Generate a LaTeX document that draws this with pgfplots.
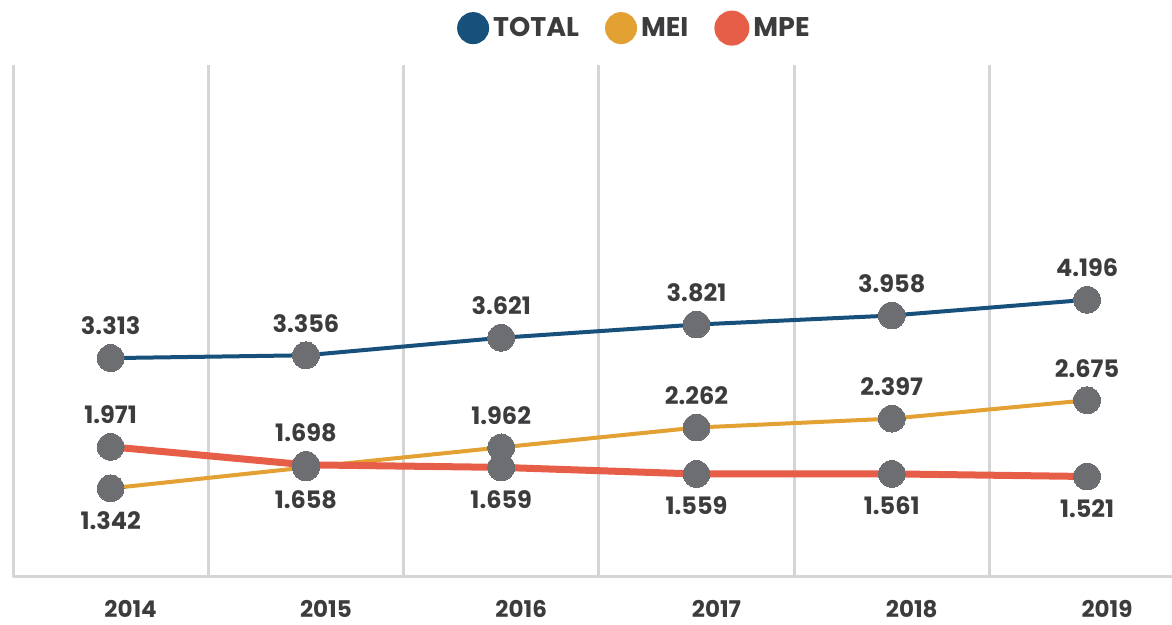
\documentclass[border=0pt]{standalone}
\usepackage{pgfplots}
\pgfplotsset{compat=1.18}
\usepackage{pgfplotstable}
\usepackage{fontspec}
\setmainfont{Poppins}
\definecolor{totalblue}{HTML}{17507A}
\definecolor{meiorange}{HTML}{E3A033}
\definecolor{mpered}{HTML}{E75E48}
\definecolor{markgray}{HTML}{6C6E71}
\definecolor{gridgray}{HTML}{D4D5D7}
\definecolor{textgray}{HTML}{3C3C3E}

\pgfplotstableread{
x total mei mpe
0 3.313 1.342 1.971
1 3.356 1.658 1.698
2 3.621 1.962 1.659
3 3.821 2.262 1.559
4 3.958 2.397 1.561
5 4.196 2.675 1.521
}\datatable

\begin{document}
\begin{tikzpicture}
\path[use as bounding box] (0,0) rectangle (586pt,312.5pt);
\begin{axis}[
  at={(6.5pt,24pt)}, anchor=south west,
  scale only axis, width=579.5pt, height=256pt,
  xmin=-0.5, xmax=5.435, ymin=0, ymax=7.75,
  axis x line*=bottom, axis y line=none,
  x axis line style={draw=gridgray, line width=1.5pt, -},
  ytick=\empty,
  xtick={0,...,5}, xticklabels={2014,2015,2016,2017,2018,2019},
  major tick length=0pt, minor tick length=0pt,
  minor xtick={-0.5,0.5,1.5,2.5,3.5,4.5},
  xminorgrids=true,
  minor grid style={draw=gridgray, line width=1.5pt},
  xticklabel style={anchor=center, inner sep=0pt, yshift=-16pt, xshift=10pt, font=\fontsize{11.5}{13}\selectfont\bfseries, text=textgray},
  legend style={at={(0.537,1.072)}, anchor=center, draw=none, fill=none,
    legend columns=-1, font=\fontsize{13.5}{16}\selectfont\bfseries, text=textgray,
    /tikz/every even column/.append style={column sep=11pt}},
  legend cell align=left,
  clip=false,
]
\addplot[totalblue, line width=2pt,
  legend image code/.code={\fill[totalblue] (0pt,0pt) circle (7pt);}]
  table[x=x, y=total]{\datatable};
\addlegendentry{TOTAL}
\addplot[meiorange, line width=2pt,
  legend image code/.code={\fill[meiorange] (0pt,0pt) circle (7pt);}]
  table[x=x, y=mei]{\datatable};
\addlegendentry{MEI}
\addplot[mpered, line width=3.5pt,
  legend image code/.code={\fill[mpered] (0pt,0pt) circle (7pt);}]
  table[x=x, y=mpe]{\datatable};
\addlegendentry{MPE}

\addplot[forget plot, only marks, color=markgray, mark=*, mark size=6.7pt,
  mark options={fill=markgray, draw=markgray, line width=0pt},
  nodes near coords, point meta=explicit symbolic,
  nodes near coords style={anchor=center, yshift=16pt,
    font=\fontsize{12}{14}\selectfont\bfseries, text=textgray}]
  table[x=x, y=total, meta=total]{\datatable};
\addplot[forget plot, only marks, color=markgray, mark=*, mark size=6.7pt,
  mark options={fill=markgray, draw=markgray, line width=0pt},
  nodes near coords, point meta=explicit symbolic,
  visualization depends on={rawx \as \rx},
  nodes near coords style={anchor=center, yshift={(\rx<1.5)*(-32pt)+16pt},
    font=\fontsize{12}{14}\selectfont\bfseries, text=textgray}]
  table[x=x, y=mei, meta=mei]{\datatable};
\addplot[forget plot, only marks, color=markgray, mark=*, mark size=6.7pt,
  mark options={fill=markgray, draw=markgray, line width=0pt},
  nodes near coords, point meta=explicit symbolic,
  visualization depends on={rawx \as \rx},
  nodes near coords style={anchor=center, yshift={(\rx<1.5)*32pt-16pt},
    font=\fontsize{12}{14}\selectfont\bfseries, text=textgray}]
  table[x=x, y=mpe, meta=mpe]{\datatable};
\end{axis}
\end{tikzpicture}
\end{document}
